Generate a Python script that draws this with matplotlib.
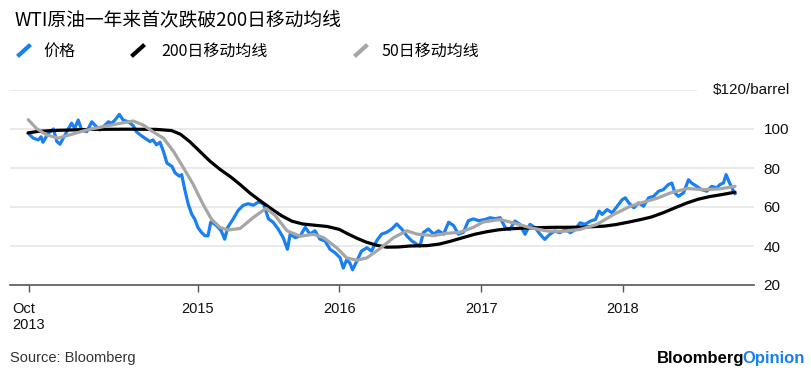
import matplotlib
matplotlib.use('Agg')
import matplotlib.pyplot as plt
import pandas as pd
from matplotlib.lines import Line2D

plt.rcParams['font.family'] = ['Liberation Sans', 'DejaVu Sans']
CJK = ['Noto Sans CJK SC', 'DejaVu Sans']

# WTI daily price (roughly every 1-2 weeks)
price_dates = ['2013-10-20', '2013-11-02', '2013-11-15', '2013-11-22', '2013-11-27', '2013-12-11', '2013-12-24',
               '2014-01-02', '2014-01-10', '2014-01-23', '2014-02-09', '2014-02-17', '2014-02-26', '2014-03-07',
               '2014-03-20', '2014-04-02', '2014-04-10', '2014-04-23', '2014-05-06', '2014-05-15', '2014-05-23',
               '2014-06-01', '2014-06-12', '2014-06-22', '2014-07-05', '2014-07-18', '2014-07-26', '2014-08-05',
               '2014-08-17', '2014-08-30', '2014-09-07', '2014-09-16', '2014-09-25', '2014-10-04', '2014-10-13',
               '2014-10-26', '2014-11-03', '2014-11-14', '2014-11-20', '2014-11-29', '2014-12-07', '2014-12-16',
               '2014-12-24', '2015-01-01', '2015-01-10', '2015-01-19', '2015-01-27', '2015-02-03', '2015-02-13',
               '2015-02-22', '2015-03-02', '2015-03-11', '2015-03-19', '2015-04-02', '2015-04-15', '2015-04-28',
               '2015-05-11', '2015-05-24', '2015-06-06', '2015-06-19', '2015-07-02', '2015-07-14', '2015-07-27',
               '2015-08-09', '2015-08-20', '2015-08-27', '2015-09-09', '2015-09-22', '2015-10-05', '2015-10-17',
               '2015-10-30', '2015-11-12', '2015-11-25', '2015-12-08', '2015-12-21', '2016-01-03', '2016-01-11',
               '2016-01-20', '2016-01-28', '2016-02-04', '2016-02-15', '2016-02-27', '2016-03-12', '2016-03-24',
               '2016-04-06', '2016-04-19', '2016-05-02', '2016-05-15', '2016-05-28', '2016-06-10', '2016-06-23',
               '2016-07-06', '2016-07-19', '2016-07-27', '2016-08-05', '2016-08-18', '2016-08-31', '2016-09-13',
               '2016-09-26', '2016-10-09', '2016-10-22', '2016-11-03', '2016-11-16', '2016-11-29', '2016-12-12',
               '2016-12-25', '2017-01-11', '2017-01-24', '2017-02-06', '2017-02-19', '2017-03-04', '2017-03-16',
               '2017-03-29', '2017-04-11', '2017-04-24', '2017-05-07', '2017-05-20', '2017-06-02', '2017-06-14',
               '2017-06-27', '2017-07-10', '2017-07-23', '2017-08-06', '2017-08-19', '2017-09-01', '2017-09-13',
               '2017-09-26', '2017-10-10', '2017-10-23', '2017-11-01', '2017-11-09', '2017-11-22', '2017-12-05',
               '2017-12-18', '2017-12-31', '2018-01-08', '2018-01-17', '2018-01-30', '2018-02-11', '2018-02-24',
               '2018-03-09', '2018-03-22', '2018-04-04', '2018-04-16', '2018-04-29', '2018-05-08', '2018-05-16',
               '2018-05-25', '2018-06-07', '2018-06-20', '2018-06-28', '2018-07-11', '2018-07-24', '2018-08-06',
               '2018-08-19', '2018-09-01', '2018-09-09', '2018-09-18', '2018-09-25', '2018-10-04', '2018-10-14',
               '2018-10-18']
price_vals = [97.8, 95.3, 94.4, 96.0, 93.2, 97.8, 100.0,
              93.6, 92.2, 97.0, 103.0, 100.3, 104.6, 99.5,
              98.6, 103.7, 102.0, 99.5, 102.0, 103.7, 102.9,
              104.6, 107.5, 104.6, 103.7, 101.7, 98.6, 97.0,
              95.3, 93.6, 94.4, 91.9, 93.2, 88.5, 82.5,
              80.8, 77.5, 75.8, 76.6, 68.1, 61.4, 56.3,
              53.7, 49.5, 47.0, 45.3, 45.2, 52.2, 51.3,
              49.6, 47.8, 43.5, 49.6, 53.9, 58.3, 60.9,
              61.7, 60.9, 62.6, 61.7, 53.9, 52.2, 48.7,
              44.3, 38.3, 46.1, 44.3, 45.2, 49.6, 46.1,
              47.8, 43.5, 42.6, 38.3, 36.5, 33.9, 28.7,
              33.0, 31.3, 27.8, 32.2, 37.4, 39.1, 37.4,
              42.6, 46.1, 47.0, 48.7, 51.3, 48.7, 45.2,
              42.6, 40.9, 40.0, 47.0, 48.7, 46.1, 47.8,
              46.1, 52.2, 50.4, 46.1, 47.0, 53.0, 53.9,
              53.0, 53.6, 54.5, 54.0, 54.5, 49.4, 48.5,
              52.8, 51.1, 46.0, 51.1, 49.4, 46.0, 43.4,
              46.0, 47.7, 46.8, 48.5, 46.8, 48.5, 51.9,
              51.1, 52.8, 53.6, 57.9, 56.2, 58.7, 57.0,
              60.4, 63.8, 64.7, 62.1, 59.6, 62.1, 60.4,
              64.7, 65.5, 68.1, 68.9, 71.5, 72.3, 67.2,
              65.5, 67.2, 74.0, 72.3, 70.6, 68.9, 68.1,
              70.6, 69.8, 71.5, 72.3, 76.6, 72.3, 68.1,
              66.9]

# 200-day moving average
ma200_dates = ['2013-10-20', '2013-11-15', '2014-01-01', '2014-04-01', '2014-07-01', '2014-09-15', '2014-10-25',
               '2014-11-17', '2014-12-11', '2015-01-06', '2015-02-01', '2015-02-27', '2015-03-26', '2015-04-20',
               '2015-05-16', '2015-06-12', '2015-07-10', '2015-08-05', '2015-09-01', '2015-09-28', '2015-11-01',
               '2015-12-01', '2016-01-01', '2016-01-20', '2016-02-15', '2016-03-10', '2016-04-06', '2016-05-02',
               '2016-06-01', '2016-07-01', '2016-08-15', '2016-09-15', '2016-10-15', '2016-11-15', '2016-12-15',
               '2017-01-15', '2017-02-15', '2017-03-15', '2017-04-15', '2017-05-15', '2017-06-15', '2017-07-15',
               '2017-08-15', '2017-09-15', '2017-10-15', '2017-11-15', '2017-12-15', '2018-01-15', '2018-02-15',
               '2018-03-15', '2018-04-15', '2018-05-15', '2018-06-15', '2018-07-15', '2018-08-15', '2018-09-15',
               '2018-10-18']
ma200_vals = [98.0, 98.8, 99.3, 99.8, 99.9, 99.8, 99.2,
              97.3, 93.5, 88.5, 83.5, 79.3, 75.5, 71.5,
              67.0, 63.0, 59.0, 55.5, 52.7, 51.3, 50.6,
              50.0, 48.5, 46.5, 44.0, 42.0, 40.4, 39.4,
              39.5, 40.0, 40.2, 41.0, 42.5, 44.3, 46.0,
              47.3, 48.3, 48.8, 49.1, 49.3, 49.5, 49.6,
              49.6, 49.7, 49.9, 50.2, 51.0, 52.2, 53.5,
              54.8, 57.0, 59.5, 62.0, 64.0, 65.4, 66.4,
              67.6]

# 50-day moving average
ma50_dates = ['2013-10-20', '2013-11-10', '2013-12-06', '2014-01-05', '2014-02-04', '2014-03-20', '2014-05-02',
              '2014-06-14', '2014-07-18', '2014-08-13', '2014-09-07', '2014-10-04', '2014-10-30', '2014-11-25',
              '2014-12-20', '2015-01-14', '2015-02-05', '2015-02-27', '2015-03-20', '2015-04-20', '2015-05-23',
              '2015-06-26', '2015-07-19', '2015-08-19', '2015-09-22', '2015-10-26', '2015-11-21', '2015-12-25',
              '2016-01-20', '2016-02-15', '2016-03-12', '2016-04-15', '2016-05-20', '2016-06-23', '2016-07-19',
              '2016-08-31', '2016-10-04', '2016-11-07', '2016-12-12', '2017-01-06', '2017-02-19', '2017-03-24',
              '2017-05-07', '2017-06-19', '2017-08-01', '2017-09-13', '2017-10-27', '2017-12-09', '2018-01-21',
              '2018-02-24', '2018-03-31', '2018-05-04', '2018-06-17', '2018-07-29', '2018-09-09', '2018-10-18']
ma50_vals = [104.8, 100.3, 97.0, 95.3, 97.0, 99.5, 101.2,
             102.9, 104.1, 102.0, 98.6, 95.3, 88.5, 80.0,
             71.5, 61.4, 53.7, 49.5, 48.2, 49.0, 54.5,
             59.3, 55.7, 47.8, 45.0, 46.0, 44.3, 39.1,
             33.9, 32.7, 33.9, 38.7, 44.3, 47.8, 46.1,
             45.3, 46.5, 47.0, 49.6, 52.3, 53.6, 51.9,
             49.4, 47.7, 47.5, 48.5, 51.1, 56.2, 60.4,
             62.5, 64.5, 67.2, 69.5, 68.9, 69.3, 70.6]

tick_dates = ['2013-10-22', '2015-01-01', '2016-01-01', '2017-01-01', '2018-01-01']
tick_labels = ['Oct\n2013', '2015', '2016', '2017', '2018']
y_ticks = [20, 40, 60, 80, 100]

blue = '#1a7ff2'
gray = '#a6a6a6'

W, H = 812, 381
fig = plt.figure(figsize=(W / 100, H / 100), dpi=100)
ax = fig.add_axes([10 / W, (H - 285) / H, 744 / W, 195 / H])

ax.plot(pd.to_datetime(price_dates), price_vals, color=blue, lw=2.3, solid_joinstyle='round', zorder=3)
ax.plot(pd.to_datetime(ma200_dates), ma200_vals, color='black', lw=2.3, solid_capstyle='round', zorder=4)
ax.plot(pd.to_datetime(ma50_dates), ma50_vals, color=gray, lw=2.3, solid_capstyle='round', zorder=5)

ax.set_xlim(pd.Timestamp('2013-09-03'), pd.Timestamp('2018-12-06'))
ax.set_ylim(20, 120)

for v in y_ticks[1:]:
    ax.axhline(v, color='#e8e8e8', lw=1.3, zorder=0)
ax.axhline(120, xmax=0.922, color='#e8e8e8', lw=1.3, zorder=0)

for s in ['top', 'left', 'right']:
    ax.spines[s].set_visible(False)
ax.spines['bottom'].set_color('#555555')
ax.spines['bottom'].set_linewidth(1.2)

ax.set_xticks(pd.to_datetime(tick_dates))
ax.set_xticklabels(tick_labels, fontsize=10.5)
for lbl in ax.get_xticklabels():
    lbl.set_multialignment('left')
ax.tick_params(axis='x', length=5, width=1, color='#555555', pad=7, labelcolor='#111111')

ax.yaxis.tick_right()
ax.set_yticks(y_ticks)
ax.set_yticklabels([str(v) for v in y_ticks], fontsize=11)
ax.tick_params(axis='y', length=0, pad=7, labelcolor='#111111')
fig.text(790 / W, 1 - 90 / H, '\\$120/barrel', ha='right', va='center', fontsize=11, color='#111111')

# title and legend
fig.text(15 / W, 1 - 21 / H, 'WTI原油一年来首次跌破200日移动均线', family=CJK, fontsize=13.5,
         va='center', color='black')
legend = [(blue, 19, '价格', 43), ('black', 133, '200日移动均线', 161), (gray, 356, '50日移动均线', 382)]
for color, x0, label, tx in legend:
    fig.add_artist(Line2D([x0 / W, (x0 + 10) / W], [1 - 55 / H, 1 - 46 / H], color=color, lw=3,
                          transform=fig.transFigure))
    fig.text(tx / W, 1 - 51 / H, label, family=CJK, fontsize=11.5, va='center', color='black')

fig.text(10 / W, 1 - 358 / H, 'Source: Bloomberg', fontsize=10.5, va='center', color='#333333')
op = fig.text(805 / W, 1 - 358 / H, 'Opinion', fontsize=12, fontweight='bold', ha='right', va='center', color=blue)
fig.canvas.draw()
bb = op.get_window_extent()
fig.text((bb.x0 + 2) / W, 1 - 358 / H, 'Bloomberg', fontsize=12, fontweight='bold', ha='right', va='center',
         color='black')

fig.savefig('out.png', dpi=100)
